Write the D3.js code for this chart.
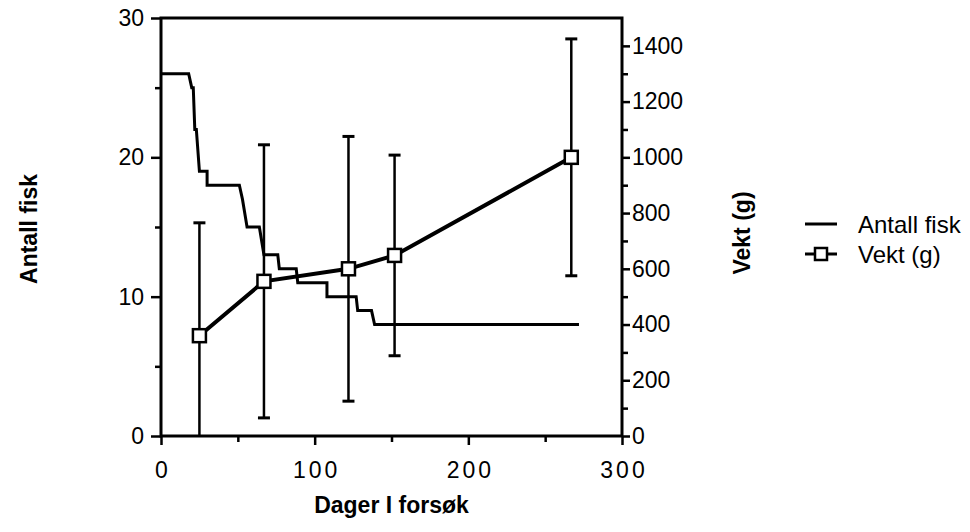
<!DOCTYPE html>
<html>
<head>
<meta charset="utf-8">
<script src="https://cdn.jsdelivr.net/npm/d3@7"></script>
<style>
  body { margin: 0; background: #fff; }
  text { font-family: "Liberation Sans", Arial, sans-serif; fill: #000; }
</style>
</head>
<body>
<div id="chart"></div>
<script>
// Antall fisk (step curve), corner points
const fishDays   = [0, 18, 20, 21, 22, 23, 25, 30, 30, 51, 53, 56, 64, 67, 76, 77, 88, 89, 108, 108, 127, 128, 137, 139, 272];
const fishCounts = [26, 26, 25, 25, 22, 22, 19, 19, 18, 18, 17, 15, 15, 13, 13, 12, 12, 11, 11, 10, 10, 9, 9, 8, 8];

// Vekt (g): mean and standard deviation
const weightDays = [25, 67, 122, 152, 267];
const weightMean = [360, 555, 600, 648, 1000];
const weightSd   = [405, 490, 475, 360, 425];

const xTicks = [0, 100, 200, 300];
const xMinorTicks = [50, 150, 250];
const yLeftTicks = [0, 10, 20, 30];
const yLeftMinor = [5, 15, 25];
const yRightTicks = [0, 200, 400, 600, 800, 1000, 1200, 1400];
const yRightMinor = [100, 300, 500, 700, 900, 1100, 1300];

const legendLabels = ["Antall fisk", "Vekt (g)"];

const W = 970, H = 532;
const margin = {top: 18, left: 161, right: 348, bottom: 96};
const width = W - margin.left - margin.right;
const height = H - margin.top - margin.bottom;

const svg = d3.select("#chart").append("svg").attr("width", W).attr("height", H);
const g = svg.append("g").attr("transform", "translate(" + [margin.left, margin.top] + ")");

const x = d3.scaleLinear().domain([0, 300]).range([0, width]);
const yL = d3.scaleLinear().domain([0, 30]).range([height, 0]);
const yR = d3.scaleLinear().domain([0, 1500]).range([height, 0]);

function styleAxis(sel, size){
    sel.select(".domain").remove();
    sel.selectAll(".tick line").attr("stroke", "#000").attr("stroke-width", 2.5);
    sel.selectAll(".tick text").style("font-size", size + "px");
}

// bottom axis
const xAx = g.append("g").attr("transform", "translate(0," + height + ")")
    .call(d3.axisBottom(x).tickValues(xTicks).tickSize(9).tickPadding(17));
styleAxis(xAx, 23);
xAx.selectAll(".tick text").style("letter-spacing", "3px").attr("dx", "1.5");
g.append("g").attr("transform", "translate(0," + height + ")")
    .call(d3.axisBottom(x).tickValues(xMinorTicks).tickSize(6).tickFormat(""))
    .call(s => styleAxis(s, 0));

// left axis
const yLAx = g.append("g")
    .call(d3.axisLeft(yL).tickValues(yLeftTicks).tickSize(10).tickPadding(7));
styleAxis(yLAx, 23);
g.append("g").call(d3.axisLeft(yL).tickValues(yLeftMinor).tickSize(6).tickFormat(""))
    .call(s => styleAxis(s, 0));

// right axis
const yRAx = g.append("g").attr("transform", "translate(" + width + ",0)")
    .call(d3.axisRight(yR).tickValues(yRightTicks).tickSize(8).tickPadding(2).tickFormat(d3.format("d")));
styleAxis(yRAx, 23);
g.append("g").attr("transform", "translate(" + width + ",0)")
    .call(d3.axisRight(yR).tickValues(yRightMinor).tickSize(6).tickFormat(""))
    .call(s => styleAxis(s, 0));

// frame: left, bottom, right, top
g.append("rect").attr("x", 0).attr("y", 0).attr("width", width).attr("height", height)
    .attr("fill", "none").attr("stroke", "#000").attr("stroke-width", 3);

// fish count step line
const fish = fishDays.map((d, i) => ({day: d, n: fishCounts[i]}));
g.append("path").datum(fish)
    .attr("fill", "none").attr("stroke", "#000").attr("stroke-width", 3)
    .attr("stroke-linejoin", "miter")
    .attr("d", d3.line().x(d => x(d.day)).y(d => yL(d.n)));

// weight series
const weight = weightDays.map((d, i) => ({day: d, m: weightMean[i], sd: weightSd[i]}));
const bars = g.append("g");
weight.forEach(d => {
    const lo = Math.max(0, d.m - d.sd), hi = d.m + d.sd;
    bars.append("line").attr("x1", x(d.day)).attr("x2", x(d.day))
        .attr("y1", yR(lo)).attr("y2", yR(hi))
        .attr("stroke", "#000").attr("stroke-width", 2.5);
    bars.append("line").attr("x1", x(d.day) - 6).attr("x2", x(d.day) + 6)
        .attr("y1", yR(hi)).attr("y2", yR(hi))
        .attr("stroke", "#000").attr("stroke-width", 3);
    if (d.m - d.sd > 0) {
        bars.append("line").attr("x1", x(d.day) - 6).attr("x2", x(d.day) + 6)
            .attr("y1", yR(lo)).attr("y2", yR(lo))
            .attr("stroke", "#000").attr("stroke-width", 3);
    }
});
g.append("path").datum(weight)
    .attr("fill", "none").attr("stroke", "#000").attr("stroke-width", 4)
    .attr("d", d3.line().x(d => x(d.day)).y(d => yR(d.m)));
g.append("g").selectAll("rect").data(weight).join("rect")
    .attr("x", d => x(d.day) - 6.5).attr("y", d => yR(d.m) - 6.5)
    .attr("width", 13).attr("height", 13)
    .attr("fill", "#fff").attr("stroke", "#000").attr("stroke-width", 2.5);

// axis titles
svg.append("text").attr("x", margin.left + x(150)).attr("y", 513)
    .attr("text-anchor", "middle").style("font-size", "23px").style("font-weight", "bold")
    .text("Dager I forsøk");
svg.append("text").attr("transform", "translate(37,229) rotate(-90)")
    .attr("text-anchor", "middle").style("font-size", "23px").style("font-weight", "bold")
    .text("Antall fisk");
svg.append("text").attr("transform", "translate(750,233) rotate(-90)")
    .attr("text-anchor", "middle").style("font-size", "23px").style("font-weight", "bold")
    .text("Vekt (g)");

// legend
const lg = svg.append("g").attr("transform", "translate(805,224)");
lg.append("line").attr("x1", 0).attr("x2", 32).attr("y1", 0).attr("y2", 0)
    .attr("stroke", "#000").attr("stroke-width", 3);
lg.append("line").attr("x1", 0).attr("x2", 32).attr("y1", 30).attr("y2", 30)
    .attr("stroke", "#000").attr("stroke-width", 3);
lg.append("rect").attr("x", 10).attr("y", 24).attr("width", 12).attr("height", 12)
    .attr("fill", "#fff").attr("stroke", "#000").attr("stroke-width", 2.5);
lg.selectAll("text").data(legendLabels).join("text")
    .attr("x", 53).attr("y", (d, i) => i * 30 + 9)
    .style("font-size", "24px").text(d => d);
</script>
</body>
</html>
